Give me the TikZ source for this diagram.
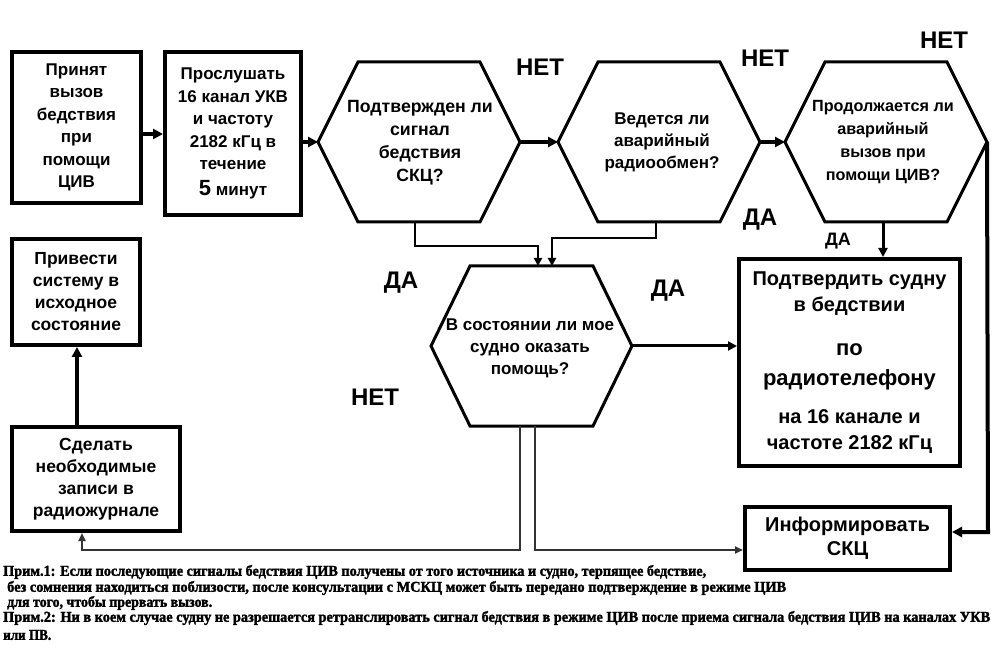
\documentclass[tikz,border=0pt]{standalone}
\usepackage{fontspec}
\setmainfont{Liberation Sans}
\newfontfamily\notefont{Liberation Serif}[BoldFeatures={FakeBold=2}]
\usetikzlibrary{arrows.meta}
\tikzset{
  box/.style={draw,line width=4pt,align=center,inner sep=0pt,
    font=\bfseries\fontsize{17}{22.5}\selectfont},
  hexline/.style={line width=3pt,line join=miter},
  hextext/.style={align=center,inner sep=0pt,font=\bfseries\fontsize{17}{22}\selectfont},
  bigarrow/.style={line width=4pt,-{Triangle[length=10pt,width=10pt]}},
  midarrow/.style={line width=3pt,-{Triangle[length=9pt,width=9pt]}},
  thinarrow/.style={line width=2.5pt,-{Triangle[length=8pt,width=8pt]}},
  grayarrow/.style={line width=2.5pt,draw=black!80,-{Triangle[length=8pt,width=7pt]}},
  lbl/.style={inner sep=0pt,font=\bfseries\fontsize{24}{24}\selectfont},
  lblsmall/.style={inner sep=0pt,font=\bfseries\fontsize{18}{18}\selectfont},
  note/.style={inner sep=0pt,anchor=west,font=\notefont\bfseries\fontsize{15}{15}\selectfont},
}
\begin{document}
\begin{tikzpicture}[x=1pt,y=-1pt]
\path[use as bounding box,fill=white] (0,0) rectangle (997,655);

% boxes
\node[box,minimum width=129pt,minimum height=151pt] (b1) at (76.5,127.5)
  {Принят\\вызов\\бедствия\\при\\помощи\\ЦИВ};
\node[box,minimum width=136pt,minimum height=163pt] (b2) at (233,133.5)
  {Прослушать\\16 канал УКВ\\и частоту\\2182 кГц в\\течение\\[3pt]{\fontsize{22}{22}\selectfont 5} минут};
\node[box,minimum width=128pt,minimum height=106pt,font=\bfseries\fontsize{17.5}{22}\selectfont] (b3) at (76,292)
  {Привести\\систему в\\исходное\\состояние};
\node[box,minimum width=168pt,minimum height=104pt,font=\bfseries\fontsize{17.5}{22}\selectfont] (b4) at (96,479)
  {Сделать\\необходимые\\записи в\\радиожурнале};
\node[box,minimum width=221pt,minimum height=207pt,font=\bfseries\fontsize{20}{26}\selectfont] (b5) at (849.5,362.5)
  {Подтвердить судну\\в бедствии\\[18pt]{\fontsize{22}{26}\selectfont по}\\[4pt]{\fontsize{22}{26}\selectfont радиотелефону}\\[12pt]на 16 канале и\\частоте 2182 кГц};
\node[box,minimum width=205pt,minimum height=63pt,font=\bfseries\fontsize{20}{24}\selectfont] (b6) at (847.5,538.5)
  {Информировать\\СКЦ};

% hexagons
\coordinate (h1L) at (318,142); \coordinate (h1R) at (520,142);
\draw[hexline] (h1L) -- (358,62) -- (480,62) -- (h1R) -- (480,222) -- (358,222) -- cycle;
\node[hextext,font=\bfseries\fontsize{17.7}{23}\selectfont] (h1) at (420,142.5) {Подтвержден ли\\сигнал\\бедствия\\СКЦ?};

\coordinate (h2L) at (558,142); \coordinate (h2R) at (760,142);
\draw[hexline] (h2L) -- (598,62) -- (720,62) -- (h2R) -- (720,222) -- (598,222) -- cycle;
\node[hextext] (h2) at (662,142) {Ведется ли\\аварийный\\радиообмен?};

\coordinate (h3L) at (785,142); \coordinate (h3R) at (987,142);
\draw[hexline] (h3L) -- (825,62) -- (947,62) -- (h3R) -- (947,222) -- (825,222) -- cycle;
\node[hextext,font=\bfseries\fontsize{16.2}{23}\selectfont] (h3) at (883,142.5) {Продолжается ли\\аварийный\\вызов при\\помощи ЦИВ?};

\coordinate (h4L) at (431,346); \coordinate (h4R) at (632,346);
\draw[hexline] (h4L) -- (470,266) -- (593,266) -- (h4R) -- (593,426) -- (470,426) -- cycle;
\node[hextext] (h4) at (530,348) {В состоянии ли мое\\судно оказать\\помощь?};

% named connector points
\coordinate (h1B) at (415,222);
\coordinate (h2B) at (656,222);
\coordinate (h3B) at (883,222);
\coordinate (h4Ta) at (538,266);
\coordinate (h4Tb) at (552,266);
\coordinate (h4Ba) at (520,426);
\coordinate (h4Bb) at (535,426);

% connectors
\draw[bigarrow] (b1.east |- 0,134) -- (b2.west |- 0,134);
\draw[bigarrow] (b2.east |- h1L) -- (h1L);
\draw[bigarrow] (h1R) -- (h2L);
\draw[bigarrow] (h2R) -- (h3L);
\draw[midarrow] (h3B) -- (h3B |- b5.north);
\draw[midarrow] (h4R) -- (b5.west |- h4R);
\draw[thinarrow] (h1B) -- (415,246) -- (538,246) -- (h4Ta);
\draw[thinarrow] (h2B) -- (656,238) -- (552,238) -- (h4Tb);
\draw[bigarrow] (h3R) -- (988,532) -- (b6.east |- 0,532);
\draw[bigarrow] (b4.north -| 77,0) -- (b3.south -| 77,0);
\draw[grayarrow] (h4Ba) -- (520,550) -- (82,550) -- (b4.south -| 82,0);
\draw[grayarrow] (h4Bb) -- (535,550) -- (b6.west |- 0,550);

% labels
\node[lbl] (n1) at (540,67) {НЕТ};
\node[lbl] (n2) at (765,58) {НЕТ};
\node[lbl] (n3) at (944,40) {НЕТ};
\node[lbl] (n4) at (375,397) {НЕТ};
\node[lbl] (d1) at (760,220) {ДА};
\node[lblsmall] (d2) at (838,241) {ДА};
\node[lbl] (d3) at (401,283) {ДА};
\node[lbl] (d4) at (668,291) {ДА};

% notes
\node[note] (p1) at (3,572) {\resizebox{703pt}{\height}{Прим.1: Если последующие сигналы бедствия ЦИВ получены от того источника и судно, терпящее бедствие,}};
\node[note] (p2) at (7,588) {\resizebox{779pt}{\height}{без сомнения находиться поблизости, после консультации с МСКЦ может быть передано подтверждение в режиме ЦИВ}};
\node[note] (p3) at (7,603) {\resizebox{205pt}{\height}{для того, чтобы прервать вызов.}};
\node[note] (p4) at (3,618) {\resizebox{987pt}{\height}{Прим.2: Ни в коем случае судну не разрешается ретранслировать сигнал бедствия в режиме ЦИВ после приема сигнала бедствия ЦИВ на каналах УКВ}};
\node[note] (p5) at (3,635) {\resizebox{48pt}{\height}{или ПВ.}};
\end{tikzpicture}
\end{document}
